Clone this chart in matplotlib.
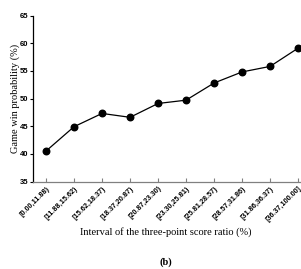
import matplotlib
matplotlib.use("Agg")
import matplotlib.pyplot as plt

categories = ["[0.00,11.88)", "[11.88,15.62)", "[15.62,18.37)", "[18.37,20.87)",
              "[20.87,23.30)", "[23.30,25.81)", "[25.81,28.57)", "[28.57,31.86)",
              "[31.86,36.37)", "[36.37,100.00]"]
win_prob = [40.5, 44.9, 47.3, 46.6, 49.1, 49.7, 52.8, 54.8, 55.8, 59.1]
yticks = [35, 40, 45, 50, 55, 60, 65]

W, H = 301, 269
fig = plt.figure(figsize=(W / 100, H / 100), dpi=100)
ax = fig.add_axes([33 / W, (H - 181.5) / H, (299.5 - 33) / W, (181.5 - 15.5) / H])

x = list(range(len(categories)))
ax.plot(x, win_prob, color="black", lw=0.9, marker="o", ms=4.7, mfc="black", mec="black")

ax.set_xlim(-0.464, 9.05)
ax.set_ylim(35, 65)
ax.set_yticks(yticks)
ax.set_xticks(x)
ax.set_xticklabels(categories, rotation=45, ha="right", rotation_mode="anchor",
                   fontsize=5.2, family="Liberation Sans", fontweight="bold")
ax.set_yticklabels([str(v) for v in yticks], fontsize=5.5,
                   family="Liberation Sans", fontweight="bold")

for s in ["top", "right"]:
    ax.spines[s].set_visible(False)
ax.spines["left"].set_color("black")
ax.spines["left"].set_linewidth(0.9)
ax.spines["bottom"].set_color("#808080")
ax.spines["bottom"].set_linewidth(0.9)
ax.tick_params(axis="y", direction="out", length=2.5, width=0.8, pad=1)
ax.tick_params(axis="x", direction="in", length=3, width=0.8, colors="#808080", pad=2.5)
for lab in ax.get_xticklabels():
    lab.set_color("black")

ax.set_ylabel("Game win probability (%)", family="Liberation Serif", fontsize=7.5, labelpad=0)
ax.set_xlabel("Interval of the three-point score ratio (%)", family="Liberation Serif",
              fontsize=7.5, labelpad=3)

fig.text(166 / W, 1 - 262 / H, "(b)", family="Liberation Serif", fontweight="bold",
         fontsize=7.5, ha="center", va="center")

fig.savefig("out.png", dpi=100)
